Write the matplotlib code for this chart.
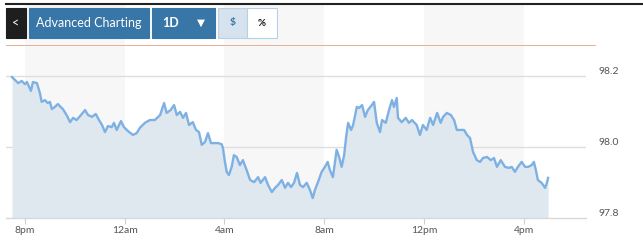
import matplotlib
matplotlib.use("Agg")
import matplotlib.pyplot as plt
from matplotlib.patches import Rectangle
from matplotlib.lines import Line2D
from matplotlib.transforms import blended_transform_factory

plt.rcParams["font.family"] = ["Lato", "DejaVu Sans"]

W, H = 643, 246

# hours after 8pm, price
hours = [-0.52, -0.40, -0.27, -0.13, 0.00, 0.08, 0.24, 0.32, 0.48, 0.60, 0.67, 0.80,
         0.91, 1.00, 1.08, 1.20, 1.32, 1.43, 1.52, 1.67, 1.81, 1.93, 2.07, 2.21,
         2.41, 2.53, 2.69, 2.84, 2.97, 3.09, 3.21, 3.33, 3.48, 3.57, 3.68, 3.85,
         3.97, 4.13, 4.33, 4.48, 4.61, 4.81, 5.01, 5.21, 5.42, 5.58, 5.68, 5.84,
         5.98, 6.09, 6.22, 6.34, 6.46, 6.58, 6.73, 6.86, 6.98, 7.09, 7.22, 7.34,
         7.46, 7.62, 7.74, 7.89, 7.94, 8.02, 8.09, 8.18, 8.29, 8.38, 8.49, 8.62,
         8.74, 8.89, 9.03, 9.19, 9.35, 9.45, 9.63, 9.75, 9.90, 10.03, 10.15, 10.30,
         10.43, 10.55, 10.67, 10.79, 10.91, 11.03, 11.15, 11.30, 11.43, 11.54, 11.63,
         11.75, 11.90, 12.03, 12.14, 12.23, 12.35, 12.50, 12.60, 12.70, 12.80, 12.88,
         12.96, 13.08, 13.16, 13.31, 13.40, 13.52, 13.64, 13.75, 13.91, 14.00, 14.11,
         14.24, 14.32, 14.47, 14.60, 14.72, 14.80, 14.91, 14.96, 15.11, 15.27, 15.40,
         15.52, 15.71, 15.84, 15.96, 16.11, 16.25, 16.37, 16.53, 16.67, 16.77, 16.92,
         17.08, 17.21, 17.32, 17.45, 17.61, 17.73, 17.85, 17.97, 18.12, 18.25, 18.37,
         18.53, 18.68, 18.81, 18.93, 19.08, 19.25, 19.41, 19.52, 19.65, 19.77, 19.92,
         20.06, 20.18, 20.32, 20.41, 20.49, 20.57, 20.72, 20.86, 20.93, 20.98]
price = [98.197, 98.189, 98.180, 98.186, 98.177, 98.183, 98.158, 98.183, 98.180, 98.152,
         98.127, 98.132, 98.124, 98.127, 98.107, 98.113, 98.121, 98.113, 98.107, 98.090,
         98.070, 98.082, 98.076, 98.087, 98.104, 98.090, 98.085, 98.093, 98.076, 98.062,
         98.042, 98.059, 98.056, 98.068, 98.048, 98.073, 98.056, 98.045, 98.034, 98.039,
         98.054, 98.068, 98.076, 98.076, 98.090, 98.124, 98.096, 98.104, 98.118, 98.090,
         98.099, 98.082, 98.096, 98.062, 98.070, 98.048, 98.042, 98.006, 98.014, 98.039,
         98.011, 98.011, 98.011, 98.008, 97.997, 97.958, 97.930, 97.921, 97.944, 97.977,
         97.972, 97.949, 97.963, 97.935, 97.907, 97.901, 97.915, 97.899, 97.915, 97.893,
         97.873, 97.885, 97.893, 97.907, 97.885, 97.899, 97.887, 97.899, 97.927, 97.893,
         97.887, 97.899, 97.879, 97.856, 97.879, 97.901, 97.930, 97.944, 97.958, 97.935,
         97.915, 97.992, 97.972, 97.944, 97.977, 98.028, 98.068, 98.048, 98.062, 98.113,
         98.110, 98.118, 98.085, 98.104, 98.118, 98.127, 98.068, 98.042, 98.076, 98.068,
         98.104, 98.132, 98.113, 98.138, 98.082, 98.070, 98.082, 98.068, 98.076, 98.062,
         98.034, 98.062, 98.048, 98.082, 98.062, 98.096, 98.068, 98.085, 98.096, 98.090,
         98.076, 98.048, 98.048, 98.048, 98.034, 98.025, 97.986, 97.963, 97.958, 97.969,
         97.972, 97.963, 97.969, 97.944, 97.963, 97.944, 97.941, 97.944, 97.930, 97.944,
         97.958, 97.944, 97.944, 97.949, 97.958, 97.935, 97.907, 97.899, 97.885, 97.899,
         97.913]

tick_hours = [0, 4, 8, 12, 16, 20]
tick_labels = ["8pm", "12am", "4am", "8am", "12pm", "4pm"]
band_starts = [0, 8, 16]
y_ticks = [97.8, 98.0, 98.2]
y_labels = ["97.8", "98.0", "98.2"]


def fx(x):
    return x / W


def fy(y):
    return 1 - y / H


fig = plt.figure(figsize=(W / 100, H / 100), dpi=100)
ax = fig.add_axes([fx(6), fy(218), fx(586) - fx(6), fy(5) - fy(218)])

for b in band_starts:
    ax.axvspan(b, b + 4, color="#f7f7f7", lw=0, zorder=0)

for v in y_ticks[1:]:
    ax.axhline(v, color="#dedede", lw=1, zorder=1)

ax.fill_between(hours, price, 97.8, color="#dfe8ef", lw=0, zorder=2)
ax.plot(hours, price, color="#7eb1e3", lw=1.7, zorder=3)

ax.set_xlim(-0.76, 22.5)
ax.set_ylim(97.8, 98.4)
for s in ["top", "right", "left"]:
    ax.spines[s].set_visible(False)
ax.spines["bottom"].set_color("#d8d8d8")
ax.spines["bottom"].set_linewidth(1)
ax.set_yticks([])
ax.set_xticks(tick_hours)
ax.set_xticklabels(tick_labels, fontsize=7.5, color="#555555")
ax.tick_params(axis="x", length=4, color="#cfcfcf", pad=1.5)

trans = blended_transform_factory(ax.transAxes, ax.transData)
for v, lab in zip(y_ticks, y_labels):
    ax.text(1.022, v + 0.012, lab, transform=trans, fontsize=7.5, color="#555555",
            ha="left", va="center")

# header bar and buttons
fig.add_artist(Line2D([fx(6), fx(643)], [fy(3.5), fy(3.5)], color="#222222", lw=1.5))
fig.add_artist(Line2D([fx(6), fx(595)], [fy(45), fy(45)], color="#e4a47e", lw=0.6))


def button(x0, x1, face, edge=None):
    fig.add_artist(Rectangle((fx(x0), fy(38)), fx(x1) - fx(x0), fy(8) - fy(38),
                             transform=fig.transFigure, facecolor=face,
                             edgecolor=edge if edge else face, lw=0.8))


button(6, 26, "#1e1e1e")
button(29, 149, "#3776a6")
button(152, 215, "#3776a6")
button(218, 247, "#d6e3ee", "#b9d0e4")
button(247, 277, "#ffffff", "#b9d0e4")

fig.text(fx(16), fy(23), "<", color="white", fontsize=9,
         ha="center", va="center")
fig.text(fx(89), fy(23), "Advanced Charting", color="white", fontsize=9,
         ha="center", va="center")
fig.text(fx(171), fy(23), "1D", color="white", fontsize=9, fontweight="bold",
         ha="center", va="center")
fig.text(fx(201), fy(23), "\u25BC", color="white", fontsize=7.5,
         ha="center", va="center", family="DejaVu Sans")
fig.text(fx(232.5), fy(23), "$", color="#3776a6", fontsize=7.5, fontweight="bold",
         ha="center", va="center")
fig.text(fx(262), fy(23), "%", color="#111111", fontsize=7, fontweight="bold",
         ha="center", va="center")

fig.savefig("out.png", dpi=100)
